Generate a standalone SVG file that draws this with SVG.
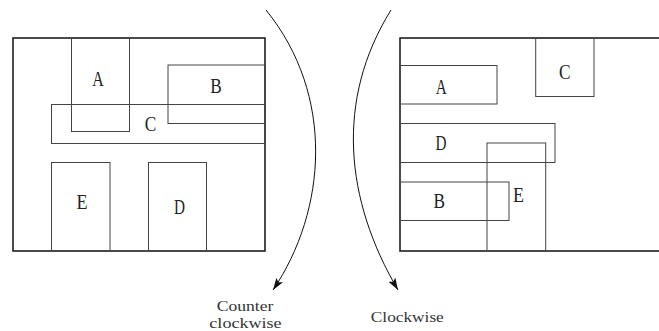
<svg xmlns="http://www.w3.org/2000/svg" width="659" height="331" viewBox="0 0 659 331">
  <style>
    .frame { fill: none; stroke: #111; stroke-width: 1.5; }
    .blk { fill: none; stroke: #444; stroke-width: 1; }
    .lbl { font-family: "Liberation Serif", serif; font-size: 20px; fill: #222; text-anchor: middle; }
    .cap { font-family: "Liberation Serif", serif; font-size: 15px; fill: #333; text-anchor: middle; }
    .arc { fill: none; stroke: #111; stroke-width: 1; }
  </style>
  <defs>
    <marker id="tip" viewBox="0 0 12 8" refX="12" refY="4" markerWidth="12" markerHeight="8" markerUnits="userSpaceOnUse" orient="auto">
      <path d="M0,0 L12,4 L0,8 L2.5,4 Z" fill="#111"/>
    </marker>
  </defs>

  <rect width="659" height="331" fill="#fff"/>

  <!-- left layout -->
  <g id="left-frame">
    <path class="frame" d="M265,38 H13 V251 H265 Z"/>
  </g>
  <g id="left-A">
    <rect class="blk" x="71.5" y="38" width="58" height="93.5"/>
    <text class="lbl" x="98" y="86" textLength="11.5" lengthAdjust="spacingAndGlyphs">A</text>
  </g>
  <g id="left-B">
    <rect class="blk" x="168" y="65" width="97" height="58.5"/>
    <text class="lbl" x="216" y="92.5" textLength="11.5" lengthAdjust="spacingAndGlyphs">B</text>
  </g>
  <g id="left-C">
    <rect class="blk" x="51.5" y="104.5" width="213.5" height="39"/>
    <text class="lbl" x="150.5" y="131" textLength="11.5" lengthAdjust="spacingAndGlyphs">C</text>
  </g>
  <g id="left-E">
    <rect class="blk" x="51.5" y="162.5" width="58.5" height="88.5"/>
    <text class="lbl" x="82" y="209" textLength="11" lengthAdjust="spacingAndGlyphs">E</text>
  </g>
  <g id="left-D">
    <rect class="blk" x="148.5" y="162.5" width="58" height="88.5"/>
    <text class="lbl" x="179.5" y="214.3" textLength="11" lengthAdjust="spacingAndGlyphs">D</text>
  </g>

  <!-- right layout -->
  <g id="right-frame">
    <path class="frame" d="M659,38 H400 V251 H659"/>
  </g>
  <g id="right-A">
    <rect class="blk" x="400" y="65.5" width="97" height="38.5"/>
    <text class="lbl" x="441.3" y="94" textLength="11" lengthAdjust="spacingAndGlyphs">A</text>
  </g>
  <g id="right-C">
    <rect class="blk" x="535.7" y="38" width="58.3" height="58.5"/>
    <text class="lbl" x="564.7" y="79.3" textLength="11.5" lengthAdjust="spacingAndGlyphs">C</text>
  </g>
  <g id="right-D">
    <rect class="blk" x="400" y="123.5" width="155" height="39"/>
    <text class="lbl" x="441" y="150" textLength="11" lengthAdjust="spacingAndGlyphs">D</text>
  </g>
  <g id="right-E">
    <rect class="blk" x="487" y="143" width="58.7" height="108"/>
    <text class="lbl" x="518.5" y="201.7" textLength="11" lengthAdjust="spacingAndGlyphs">E</text>
  </g>
  <g id="right-B">
    <rect class="blk" x="400" y="182" width="109" height="38.5"/>
    <text class="lbl" x="439.2" y="208.3" textLength="11.5" lengthAdjust="spacingAndGlyphs">B</text>
  </g>

  <!-- rotation arrows -->
  <g id="connectors">
    <path class="arc" d="M266,10 C335,95 327,210 273,290" marker-end="url(#tip)"/>
    <path class="arc" d="M391,10 C335,100 345,200 398,290" marker-end="url(#tip)"/>
  </g>

  <g id="captions">
    <text class="cap" x="245" y="310.5" textLength="56.7" lengthAdjust="spacingAndGlyphs">Counter</text>
    <text class="cap" x="245.5" y="327.5" textLength="72.3" lengthAdjust="spacingAndGlyphs">clockwise</text>
    <text class="cap" x="407.3" y="322" textLength="73" lengthAdjust="spacingAndGlyphs">Clockwise</text>
  </g>
</svg>
